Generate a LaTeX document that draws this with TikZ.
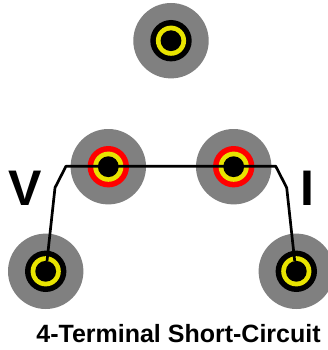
\documentclass[tikz,border=0pt]{standalone}
\usepackage{fontspec}
\setmainfont{Liberation Sans}
\definecolor{padgray}{RGB}{128,128,128}
\definecolor{ringyellow}{RGB}{232,228,0}
\definecolor{ringred}{RGB}{255,0,0}
\tikzset{
  disc/.style={circle,inner sep=0pt,outer sep=0pt,draw=none},
  pad/.style={disc,fill=padgray,minimum size=75.4pt},
  collarblack/.style={disc,fill=black,minimum size=41.4pt},
  collarred/.style={disc,fill=ringred,minimum size=41.4pt},
  ring/.style={disc,fill=ringyellow,minimum size=30.2pt},
  pin/.style={disc,fill=black,minimum size=20.8pt},
  wire/.style={draw=black,line width=2.7pt,line join=round,line cap=butt},
  biglabel/.style={font=\fontsize{50}{50}\selectfont\bfseries,inner sep=0pt,anchor=base},
  caption/.style={font=\fontsize{25}{26}\selectfont\bfseries,inner sep=0pt,anchor=base}
}
\begin{document}
\begin{tikzpicture}[x=1pt,y=-1pt]
\useasboundingbox (0,0) rectangle (328,350);
% top terminal
\node[pad] (top) at (171,40.7) {};
\node[collarblack] (topc) at (top.center) {};
\node[ring] (topr) at (top.center) {};
\node[pin] (topp) at (top.center) {};
% middle left
\node[pad] (ml) at (108.3,166.7) {};
\node[collarred] (mlc) at (ml.center) {};
\node[ring] (mlr) at (ml.center) {};
\node[pin] (mlp) at (ml.center) {};
% middle right
\node[pad] (mr) at (233.7,166.7) {};
\node[collarred] (mrc) at (mr.center) {};
\node[ring] (mrr) at (mr.center) {};
\node[pin] (mrp) at (mr.center) {};
% bottom left
\node[pad] (bl) at (45.7,271.3) {};
\node[collarblack] (blc) at (bl.center) {};
\node[ring] (blr) at (bl.center) {};
\node[pin] (blp) at (bl.center) {};
% bottom right
\node[pad] (br) at (296.3,271.3) {};
\node[collarblack] (brc) at (br.center) {};
\node[ring] (brr) at (br.center) {};
\node[pin] (brp) at (br.center) {};
% wire
\coordinate (wl) at (47,261);
\coordinate (wr) at (294.7,261);
\draw[wire] (wl) -- (55,187.7) -- (66,166.2) -- (275.7,166.2) -- (286.7,187.7) -- (wr);
% labels
\node[biglabel] (v) at (25.5,205) {V};
\node[biglabel] (i) at (307,205) {I};
\node[caption] (cap) at (178.5,342) {4-Terminal Short-Circuit};
\end{tikzpicture}
\end{document}
